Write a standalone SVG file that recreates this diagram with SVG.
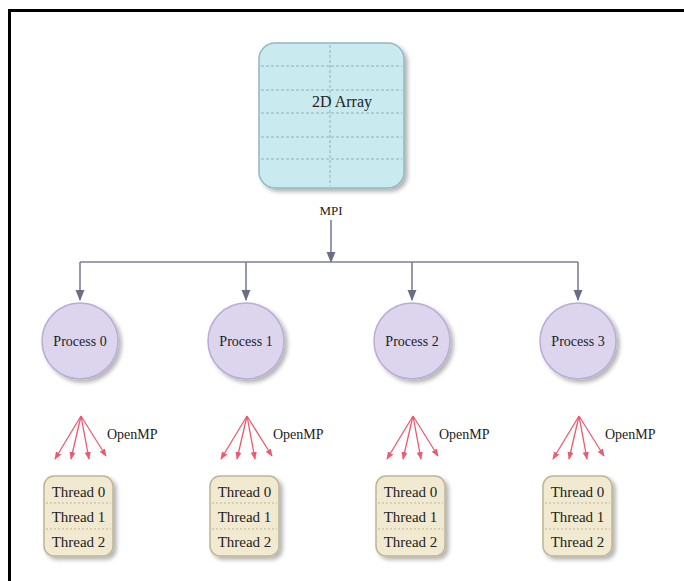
<svg xmlns="http://www.w3.org/2000/svg" width="684" height="581" viewBox="0 0 684 581" font-family="'Liberation Serif', 'Times New Roman', serif">
  <defs>
    <style>
      text { font-family: "Liberation Serif", "Times New Roman", serif; fill: #222222; }
      .conn { stroke: #7c7f96; stroke-width: 1.6; fill: none; }
      .omp { stroke: #ec5a70; stroke-width: 1.3; fill: none; }
      .proc { fill: #ddd5ee; stroke: #b9add3; stroke-width: 1.5; }
      .thr { fill: #f1ead0; stroke: #bdb597; stroke-width: 1.5; }
      .sep { stroke: #bdb597; stroke-width: 1; stroke-dasharray: 2 2; }
      .grid { stroke: #8fb3bb; stroke-width: 1; stroke-dasharray: 3 2; }
    </style>
    <marker id="arr" viewBox="0 0 10 10" refX="9" refY="5" markerWidth="7" markerHeight="7" orient="auto">
      <path d="M0,1 L10,5 L0,9 Z" fill="#6a6d86"/>
    </marker>
    <marker id="arrR" viewBox="0 0 10 10" refX="9" refY="5" markerWidth="6" markerHeight="6" orient="auto">
      <path d="M0,1 L10,5 L0,9 Z" fill="#ec5a70"/>
    </marker>
    <filter id="sh" x="-20%" y="-20%" width="150%" height="150%">
      <feGaussianBlur in="SourceAlpha" stdDeviation="2"/>
      <feOffset dx="3" dy="3"/>
      <feComponentTransfer><feFuncA type="linear" slope="0.3"/></feComponentTransfer>
      <feMerge><feMergeNode/><feMergeNode in="SourceGraphic"/></feMerge>
    </filter>
    <g id="fan">
      <path class="omp" marker-end="url(#arrR)" d="M0,0 L-26,43"/>
      <path class="omp" marker-end="url(#arrR)" d="M0,0 L-10,43"/>
      <path class="omp" marker-end="url(#arrR)" d="M0,0 L8,43"/>
      <path class="omp" marker-end="url(#arrR)" d="M0,0 L25,40"/>
    </g>
  </defs>

  <rect width="684" height="581" fill="#ffffff"/>
  <!-- frame -->
  <path d="M9.5,581 L9.5,10.5 L684,10.5" fill="none" stroke="#000" stroke-width="3"/>

  <!-- 2D array -->
  <g id="array">
    <rect x="259" y="43" width="145" height="145" rx="16" fill="#c9ebef" stroke="#94b8c0" stroke-width="1.5" filter="url(#sh)"/>
    <line class="grid" x1="330" y1="45" x2="330" y2="186"/>
    <line class="grid" x1="261" y1="66" x2="402" y2="66"/>
    <line class="grid" x1="261" y1="90" x2="402" y2="90"/>
    <line class="grid" x1="261" y1="113" x2="402" y2="113"/>
    <line class="grid" x1="261" y1="137" x2="402" y2="137"/>
    <line class="grid" x1="261" y1="159" x2="402" y2="159"/>
    <text x="342" y="107" font-size="16" text-anchor="middle">2D Array</text>
  </g>

  <!-- connectors -->
  <g id="connectors">
    <text x="331" y="215" font-size="13" text-anchor="middle">MPI</text>
    <path class="conn" marker-end="url(#arr)" d="M331,220 L331,262"/>
    <path class="conn" d="M80,262 L578,262"/>
    <path class="conn" marker-end="url(#arr)" d="M80,262 L80,300"/>
    <path class="conn" marker-end="url(#arr)" d="M246,262 L246,300"/>
    <path class="conn" marker-end="url(#arr)" d="M412,262 L412,300"/>
    <path class="conn" marker-end="url(#arr)" d="M578,262 L578,300"/>
    <use href="#fan" x="81" y="416"/>
    <use href="#fan" x="247" y="416"/>
    <use href="#fan" x="413" y="416"/>
    <use href="#fan" x="579" y="416"/>
    <text x="107" y="439" font-size="14">OpenMP</text>
    <text x="273" y="439" font-size="14">OpenMP</text>
    <text x="439" y="439" font-size="14">OpenMP</text>
    <text x="605" y="439" font-size="14">OpenMP</text>
  </g>

  <!-- processes -->
  <g id="process0">
    <circle class="proc" cx="80" cy="341" r="38" filter="url(#sh)"/>
    <text x="80" y="346" font-size="14" text-anchor="middle">Process 0</text>
  </g>
  <g id="process1">
    <circle class="proc" cx="246" cy="341" r="38" filter="url(#sh)"/>
    <text x="246" y="346" font-size="14" text-anchor="middle">Process 1</text>
  </g>
  <g id="process2">
    <circle class="proc" cx="412" cy="341" r="38" filter="url(#sh)"/>
    <text x="412" y="346" font-size="14" text-anchor="middle">Process 2</text>
  </g>
  <g id="process3">
    <circle class="proc" cx="578" cy="341" r="38" filter="url(#sh)"/>
    <text x="578" y="346" font-size="14" text-anchor="middle">Process 3</text>
  </g>

  <!-- thread blocks -->
  <g id="threads0">
    <rect class="thr" x="44" y="476" width="69" height="80" rx="10" filter="url(#sh)"/>
    <line class="sep" x1="46" y1="503" x2="111" y2="503"/>
    <line class="sep" x1="46" y1="529" x2="111" y2="529"/>
    <text x="78.5" y="497" font-size="15" text-anchor="middle">Thread 0</text>
    <text x="78.5" y="522" font-size="15" text-anchor="middle">Thread 1</text>
    <text x="78.5" y="547" font-size="15" text-anchor="middle">Thread 2</text>
  </g>
  <g id="threads1">
    <rect class="thr" x="210" y="476" width="69" height="80" rx="10" filter="url(#sh)"/>
    <line class="sep" x1="212" y1="503" x2="277" y2="503"/>
    <line class="sep" x1="212" y1="529" x2="277" y2="529"/>
    <text x="244.5" y="497" font-size="15" text-anchor="middle">Thread 0</text>
    <text x="244.5" y="522" font-size="15" text-anchor="middle">Thread 1</text>
    <text x="244.5" y="547" font-size="15" text-anchor="middle">Thread 2</text>
  </g>
  <g id="threads2">
    <rect class="thr" x="376" y="476" width="69" height="80" rx="10" filter="url(#sh)"/>
    <line class="sep" x1="378" y1="503" x2="443" y2="503"/>
    <line class="sep" x1="378" y1="529" x2="443" y2="529"/>
    <text x="410.5" y="497" font-size="15" text-anchor="middle">Thread 0</text>
    <text x="410.5" y="522" font-size="15" text-anchor="middle">Thread 1</text>
    <text x="410.5" y="547" font-size="15" text-anchor="middle">Thread 2</text>
  </g>
  <g id="threads3">
    <rect class="thr" x="543" y="476" width="69" height="80" rx="10" filter="url(#sh)"/>
    <line class="sep" x1="545" y1="503" x2="610" y2="503"/>
    <line class="sep" x1="545" y1="529" x2="610" y2="529"/>
    <text x="577.5" y="497" font-size="15" text-anchor="middle">Thread 0</text>
    <text x="577.5" y="522" font-size="15" text-anchor="middle">Thread 1</text>
    <text x="577.5" y="547" font-size="15" text-anchor="middle">Thread 2</text>
  </g>
</svg>
